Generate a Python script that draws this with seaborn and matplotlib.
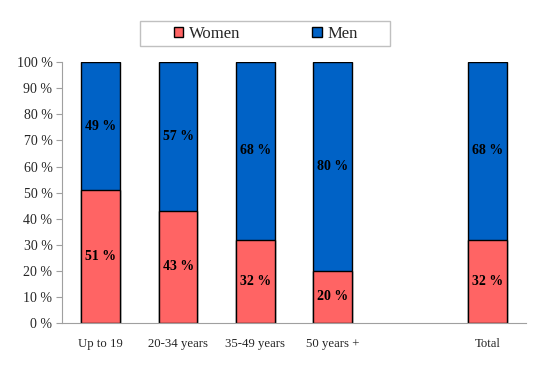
import pandas as pd
import seaborn as sns
import matplotlib.pyplot as plt
from matplotlib.ticker import FixedLocator
from matplotlib.patches import Patch, Rectangle

groups = ["Up to 19", "20-34 years", "35-49 years", "50 years +", "Total"]
women = [51, 43, 32, 20, 32]
men = [49, 57, 68, 80, 68]
order = ["Up to 19", "20-34 years", "35-49 years", "50 years +", " ", "Total"]

women_color = "#FF6464"
men_color = "#0062C6"

df = pd.DataFrame({"group": groups, "women": women, "men": men})
df["total"] = df["women"] + df["men"]

sns.set_style("white")
plt.rcParams["font.family"] = ["Liberation Serif", "DejaVu Serif"]

fig = plt.figure(figsize=(5.4, 3.7), dpi=100)
ax = fig.add_axes([0.115, 0.127, 0.859, 0.705])

sns.barplot(data=df, x="group", y="total", order=order, color=men_color,
            width=0.5, edgecolor="black", linewidth=1.0, saturation=1, ax=ax)
sns.barplot(data=df, x="group", y="women", order=order, color=women_color,
            width=0.5, edgecolor="black", linewidth=1.0, saturation=1, ax=ax)

# segment labels
pos = {g: i for i, g in enumerate(order)}
for _, r in df.iterrows():
    x = pos[r["group"]]
    ax.text(x, r["women"] / 2, f"{r['women']} %", ha="center", va="center",
            fontsize=10, fontweight="bold", color="black")
    ax.text(x, r["women"] + r["men"] / 2, f"{r['men']} %", ha="center", va="center",
            fontsize=10, fontweight="bold", color="black")

ax.set_xlim(-0.5, len(order) - 0.5)
ax.set_ylim(0, 100)
ax.set_yticks(range(0, 101, 10))
ax.set_yticklabels([f"{v} %" for v in range(0, 101, 10)], fontsize=10)
ax.set_xticks(range(len(order)))
ax.set_xticklabels(order, fontsize=9.2)
ax.xaxis.set_minor_locator(FixedLocator([i - 0.5 for i in range(len(order) + 1)]))
ax.tick_params(axis="x", which="major", length=0, pad=11)
ax.tick_params(axis="x", which="minor", length=4, color="#A0A0A0", direction="out")
ax.tick_params(axis="y", length=4, color="#A0A0A0", direction="out", left=True, pad=3)
ax.set_xlabel("")
ax.set_ylabel("")

for side in ["top", "right"]:
    ax.spines[side].set_visible(False)
for side in ["left", "bottom"]:
    ax.spines[side].set_color("#A0A0A0")
    ax.spines[side].set_linewidth(0.8)

# legend box
fig.patches.append(Rectangle((140 / 540, 1 - 46 / 370), 250 / 540, 25 / 370,
                             transform=fig.transFigure, facecolor="white",
                             edgecolor="#C0C0C0", linewidth=1.0))
handles = [Patch(facecolor=women_color, edgecolor="black", label="Women"),
           Patch(facecolor=men_color, edgecolor="black", label="Men")]
fig.legend(handles=handles, loc="center", bbox_to_anchor=(266 / 540, 1 - 33.5 / 370),
           ncol=2, fontsize=12, frameon=False, columnspacing=4.3,
           handlelength=0.55, handleheight=0.55, handletextpad=0.35,
           borderpad=0, borderaxespad=0)

fig.savefig("out.png", dpi=100)
